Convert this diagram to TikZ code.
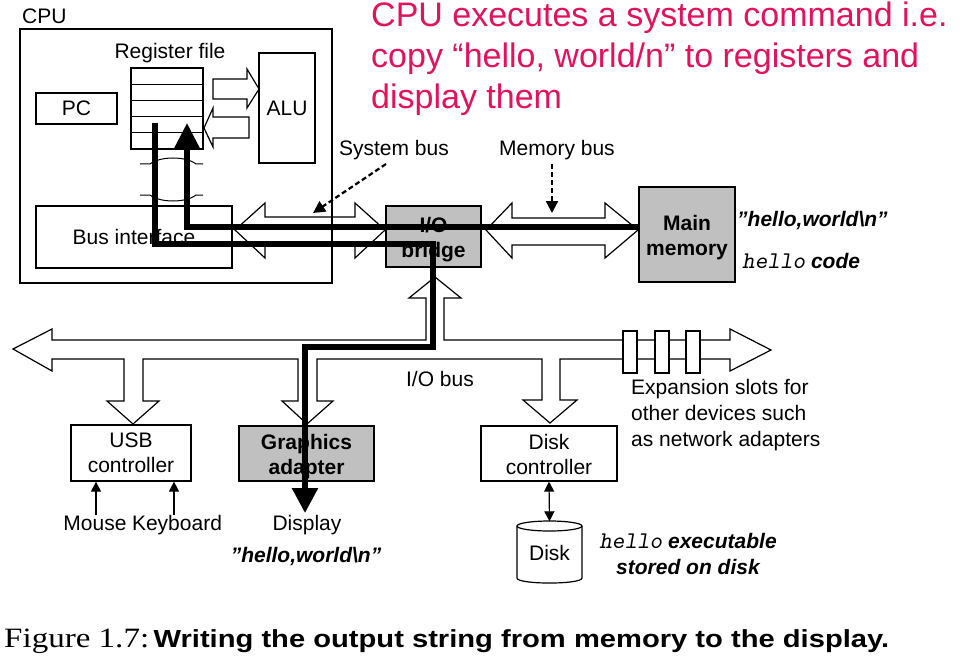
\documentclass[tikz,border=0pt]{standalone}
\usepackage{fontspec}
\setmainfont{Liberation Sans}
\newfontfamily\serifcap{Liberation Serif}
\usetikzlibrary{arrows.meta}
\definecolor{titlered}{RGB}{226,18,92}
\definecolor{boxgray}{RGB}{192,192,192}
\newcommand{\monoh}{\fontsize{24}{25}\selectfont\ttfamily\mdseries\slshape}
\begin{document}
\begin{tikzpicture}[x=1pt,y=-1pt,
  box/.style={draw, line width=1.2pt, inner sep=0pt, align=center, font=\fontsize{21}{25}\selectfont},
  graybox/.style={box, fill=boxgray, font=\fontsize{21}{25}\selectfont\bfseries},
  lower/.style={text height=46pt, text depth=4pt},
  lbl/.style={inner sep=0pt, align=center, font=\fontsize{21}{26}\selectfont},
  hollow/.style={draw, line width=1.2pt, line join=miter},
  flow/.style={line width=5.5pt, line join=miter},
  thinarrow/.style={line width=1.2pt, -{Triangle[length=10pt,width=10pt]}},
  dasharrow/.style={line width=2.2pt, dash pattern=on 5pt off 3pt, -{Triangle[length=12pt,width=12pt]}},
  titletext/.style={inner sep=0pt, anchor=base west, text=titlered, font=\fontsize{34}{41}\selectfont}
]
\useasboundingbox (0,0) rectangle (960,663);

% title
\node[titletext] (t1) at (371,27) {CPU executes a system command i.e.};
\node[titletext] (t2) at (371,68) {copy “hello, world/n” to registers and};
\node[titletext] (t3) at (371,109) {display them};

% CPU
\node[lbl, anchor=west] (cpulbl) at (22,16) {CPU};
\node[draw, line width=2.3pt, inner sep=0pt, minimum width=312pt, minimum height=254pt] (cpu) at (176,156) {};
\node[lbl] (reglbl) at (170,53) {Register file};
\node[box, minimum width=72pt, minimum height=81pt] (regfile) at (167,108.5) {};
\foreach \yy in {84.2,100.4,116.6,132.8}
  \draw[line width=1.2pt] (regfile.west |- 0,\yy) -- (regfile.east |- 0,\yy);
\node[box, minimum width=81pt, minimum height=31pt] (pc) at (76.5,108.5) {PC};
\node[box, minimum width=56pt, minimum height=110pt] (alu) at (287,108) {ALU};
\node[box, minimum width=196pt, minimum height=62pt] (busif) at (134,237) {Bus interface};

% register <-> ALU hollow arrows
\draw[hollow] (213,79) -- (247,79) -- (247,69) -- (259,89) -- (247,108) -- (247,99) -- (213,99) -- cycle;
\draw[hollow] (249,117) -- (213,117) -- (213,108) -- (204,128) -- (213,147) -- (213,138) -- (249,138) -- cycle;

% register <-> bus interface marks
\draw[line width=1pt] (140,164) -- (150,164) .. controls (160,156) and (186,156) .. (196,164) -- (203,164);
\draw[line width=1pt] (140,195) -- (150,195) .. controls (160,203) and (186,203) .. (196,195) -- (203,195);

% I/O bridge and main memory
\node[graybox, lower, minimum width=95pt, minimum height=61pt] (bridge) at (433.5,236.5) {I/O\\bridge};
\node[graybox, lower, minimum width=96pt, minimum height=95pt] (mainmem) at (687,234.5) {Main\\memory};
\node[lbl, anchor=west, font=\fontsize{21}{25}\selectfont\bfseries\itshape] (memstr) at (737,221) {"hello,world\textbackslash n"};
\node[lbl, anchor=base west] (hellocode) at (742,268) {{\monoh hello} \bfseries\itshape code};

% system bus
\draw[hollow] (235,230) -- (265,203) -- (265,217) -- (355,217) -- (355,203) -- (385,230) -- (355,258) -- (355,244) -- (265,244) -- (265,258) -- cycle;
% memory bus
\draw[hollow] (486,230) -- (512,203) -- (512,218) -- (605,218) -- (605,203) -- (638,230) -- (605,258) -- (605,245) -- (512,245) -- (512,258) -- cycle;

\node[lbl] (sysbuslbl) at (394,150) {System bus};
\node[lbl] (membuslbl) at (557,150) {Memory bus};
\coordinate (sysbustail) at (386,164);
\coordinate (sysbustip) at (313,213);
\coordinate (membustail) at (552,164);
\coordinate (membustip) at (552,213);
\draw[dasharrow] (sysbustail) -- (sysbustip);
\draw[dasharrow] (membustail) -- (membustip);

% I/O bus with branches
\draw[hollow] (13,349) -- (52,329) -- (52,340) -- (426,340) -- (426,298) -- (409,298) -- (435,277) -- (461,298) -- (444,298) -- (444,340) -- (730,340) -- (730,329) -- (771,350) -- (730,371) -- (730,359)
  -- (560,359) -- (560,400) -- (577,400) -- (550,423) -- (523,400) -- (542,400) -- (542,359)
  -- (317,359) -- (317,401) -- (333,401) -- (307,424) -- (282,401) -- (298,401) -- (298,359)
  -- (143,359) -- (143,401) -- (159,401) -- (133,424) -- (107,401) -- (124,401) -- (124,359)
  -- (52,359) -- (52,371) -- cycle;
\foreach \xx in {623,655,686}
  \draw[hollow, fill=white] (\xx,331) rectangle ++(14,42);
\node[lbl] (iobuslbl) at (440,379) {I/O bus};
\node[lbl, anchor=west, align=left] (expansion) at (631,415) {Expansion slots for\\other devices such\\as network adapters};

% controllers
\node[box, minimum width=120pt, minimum height=56pt] (usb) at (131,453) {USB\\controller};
\node[graybox, lower, minimum width=135pt, minimum height=55pt] (graphics) at (306.5,453.5) {Graphics\\adapter};
\node[box, lower, minimum width=136pt, minimum height=55pt] (diskctrl) at (549,453.5) {Disk\\controller};

\node[lbl, anchor=base] (mouse) at (95,530) {Mouse};
\node[lbl, anchor=base] (keyboard) at (177,530) {Keyboard};
\node[lbl, anchor=base] (display) at (307,530) {Display};
\node[lbl, font=\fontsize{21}{25}\selectfont\bfseries\itshape] (dispstr) at (306,557) {"hello,world\textbackslash n"};
\draw[thinarrow] (mouse.north -| 96,0) -- (usb.south -| 96,0);
\draw[thinarrow] (keyboard.north -| 174,0) -- (usb.south -| 174,0);

% disk
\node[inner sep=0pt, minimum width=65pt, minimum height=63pt, font=\fontsize{21}{25}\selectfont] (disk) at (549.5,553) {Disk};
\draw[line width=1.2pt] (549.5,526) ellipse [x radius=32.5, y radius=5];
\draw[line width=1.2pt] (517,526) -- (517,578) .. controls (517,584.7) and (582,584.7) .. (582,578) -- (582,526);
\draw[line width=1.2pt, {Triangle[length=10pt,width=10pt]}-{Triangle[length=10pt,width=10pt]}] (diskctrl.south) -- (disk.north);
\node[lbl, font=\fontsize{21}{26}\selectfont\bfseries\itshape] (hexec) at (688,554) {{\monoh hello} executable\\stored on disk};

% data flow paths
\coordinate (disptip) at (305,513);
\draw[flow, -{Triangle[length=26pt,width=25pt]}] (mainmem.west |- 0,227) -- (187,227) -- (187,123);
\draw[flow, -{Triangle[length=25pt,width=25pt]}] (155,123) -- (155,244) -- (433,244) -- (433,347) -- (305,347) -- (disptip);

% caption
\node[inner sep=0pt, anchor=base west] (caption) at (4,647) {\scalebox{1.18}[1]{{\serifcap\fontsize{28}{30}\selectfont Figure 1.7:} {\fontsize{24.7}{30}\selectfont\bfseries Writing the output string from memory to the display.}}};
\end{tikzpicture}
\end{document}
